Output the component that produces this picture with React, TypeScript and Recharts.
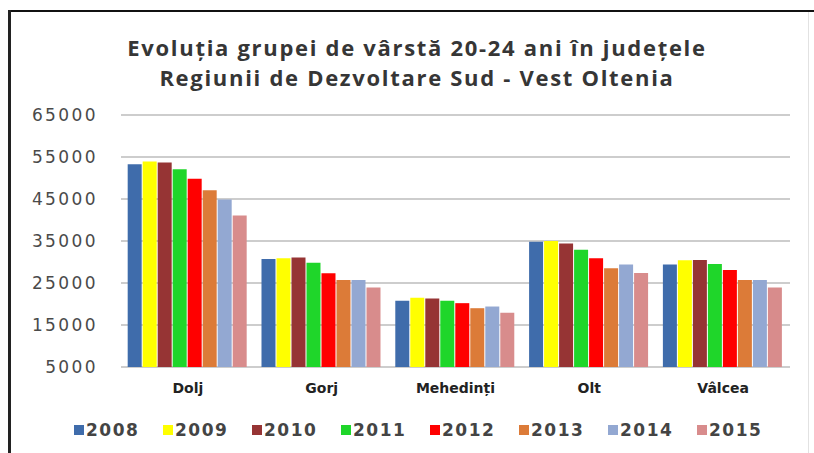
import { BarChart, Bar, XAxis, YAxis, CartesianGrid, Legend } from "recharts";

const counties = ["Dolj", "Gorj", "Mehedinți", "Olt", "Vâlcea"];
const years = ["2008", "2009", "2010", "2011", "2012", "2013", "2014", "2015"];
const yearColors = ["#3f6cab", "#ffff00", "#963434", "#1fd62a", "#ff0000", "#dc7b38", "#93a8d2", "#d88c8c"];

const v2008 = [53300, 30700, 20800, 34800, 29400];
const v2009 = [53900, 30900, 21500, 35000, 30400];
const v2010 = [53700, 31100, 21300, 34400, 30500];
const v2011 = [52100, 29800, 20800, 32900, 29500];
const v2012 = [49800, 27300, 20200, 30900, 28100];
const v2013 = [47100, 25700, 19000, 28500, 25700];
const v2014 = [44900, 25700, 19400, 29400, 25700];
const v2015 = [41100, 23900, 17900, 27400, 23900];

const yTicks = [5000, 15000, 25000, 35000, 45000, 55000, 65000];

const series = [v2008, v2009, v2010, v2011, v2012, v2013, v2014, v2015];

const data = counties.map((c, i) => {
  const row: Record<string, string | number> = { county: c };
  years.forEach((y, j) => {
    row[y] = series[j][i];
  });
  return row;
});

function LegendContent() {
  return (
    <div style={{ display: "flex", paddingLeft: 74, height: 20, alignItems: "center" }}>
      {years.map((y, i) => (
        <div key={y} style={{ width: 89, display: "flex", alignItems: "center" }}>
          <span style={{ width: 10, height: 10, background: yearColors[i], marginRight: 2, display: "inline-block" }} />
          <span
            style={{
              fontFamily: "DejaVu Sans",
              fontWeight: "bold",
              fontSize: 17,
              letterSpacing: 1.5,
              color: "#444",
            }}
          >
            {y}
          </span>
        </div>
      ))}
    </div>
  );
}

const titleStyle = {
  height: 30,
  lineHeight: "30px",
  textAlign: "center" as const,
  fontFamily: "Open Sans",
  fontWeight: 700,
  fontSize: 22,
  letterSpacing: 1.7,
  color: "#363636",
  whiteSpace: "nowrap" as const,
};

export default function App() {
  return (
    <div style={{ position: "absolute", left: 0, top: 0, width: 814, height: 453, background: "#fff", overflow: "hidden" }}>
      {/* frame of the pasted picture */}
      <div style={{ position: "absolute", left: 8, top: 10, width: 806, height: 2, background: "#111" }} />
      <div style={{ position: "absolute", left: 8, top: 10, width: 3, height: 443, background: "#222" }} />
      <div style={{ position: "absolute", left: 808, top: 12, width: 1, height: 441, background: "#e2e2e2" }} />
      <div style={{ position: "absolute", top: 32, left: 0, width: 834 }}>
        <div style={titleStyle}>Evoluția grupei de vârstă 20-24 ani în județele</div>
        <div style={titleStyle}>Regiunii de Dezvoltare Sud - Vest Oltenia</div>
      </div>
      <div style={{ position: "absolute", left: 0, top: 0 }}>
        <BarChart
          width={814}
          height={453}
          data={data}
          margin={{ top: 115, right: 24, bottom: 13, left: 0 }}
          barCategoryGap="5%"
          barGap={1}
        >
          <CartesianGrid vertical={false} stroke="#bcbcbc" strokeWidth={1.5} />
          <XAxis
            dataKey="county"
            axisLine={false}
            tickLine={false}
            height={53}
            tickMargin={10}
            tick={{ fill: "#222", fontSize: 14, fontFamily: "DejaVu Sans", fontWeight: "bold" }}
          />
          <YAxis
            domain={[5000, 65000]}
            ticks={yTicks}
            width={121}
            axisLine={false}
            tickLine={false}
            tickMargin={17}
            tick={{ fill: "#4a4a4a", fontSize: 17, fontFamily: "DejaVu Sans", letterSpacing: 2.4 }}
          />
          <Legend verticalAlign="bottom" height={20} content={<LegendContent />} />
          {years.map((y, i) => (
            <Bar key={y} dataKey={y} fill={yearColors[i]} isAnimationActive={false} />
          ))}
        </BarChart>
      </div>
    </div>
  );
}
